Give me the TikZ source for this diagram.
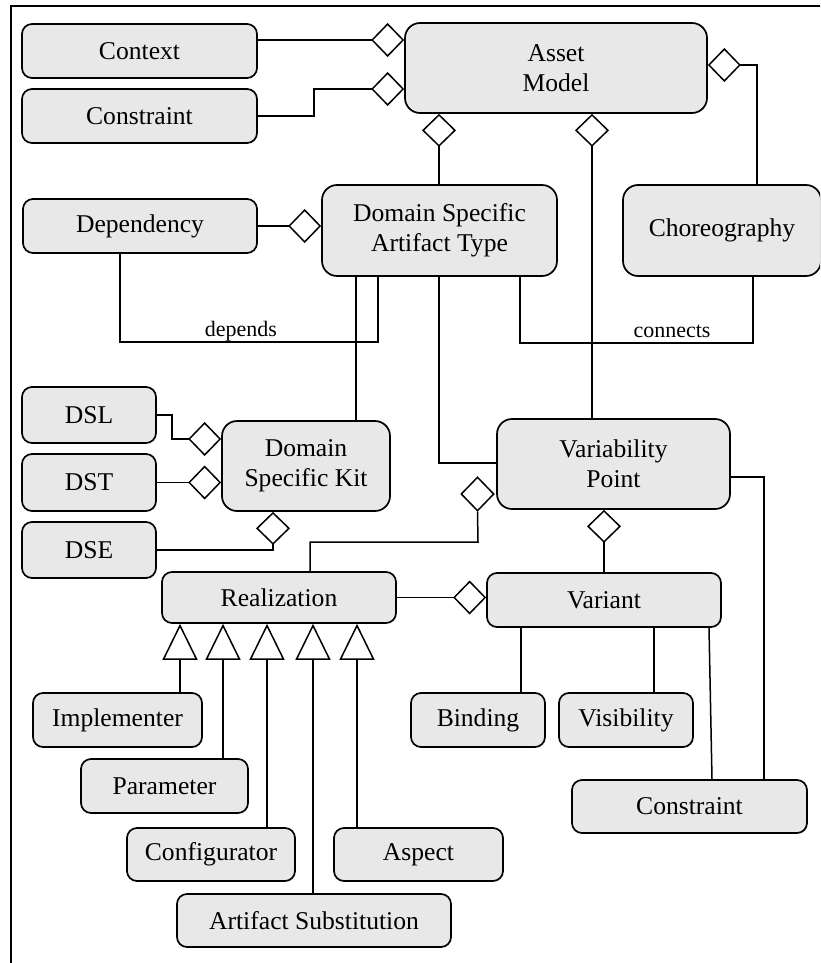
\documentclass[tikz,border=0pt]{standalone}
\usepackage{fontspec}
\setmainfont{Liberation Serif}
\usetikzlibrary{arrows.meta,shapes.geometric}
\definecolor{boxgray}{HTML}{E8E8E8}

\begin{document}
\begin{tikzpicture}[x=1pt,y=-1pt,
  box/.style={draw, line width=1.7pt, fill=boxgray, rounded corners=10pt,
    inner sep=0pt, align=center, font=\fontsize{25.6}{30}\selectfont},
  bigbox/.style={box, rounded corners=15pt},
  sz/.style 2 args={minimum width=#1pt, minimum height=#2pt},
  link/.style={line width=1.5pt},
  agg/.style={link, -{Diamond[open,length=33pt,width=34pt]}},
  gen/.style={link, -{Triangle[open,length=36pt,width=35pt]}},
  lbl/.style={inner sep=0pt, anchor=base, font=\fontsize{22}{26}\selectfont},
  aggdiamond/.style={draw, line width=1.5pt, diamond, inner sep=0pt,
    minimum width=33pt, minimum height=34pt, fill=white}
]
\clip (0,0) rectangle (820,963);

% outer frame
\draw[line width=1.7pt] (11,990) -- (11,6) -- (840,6);

% classes
\node[bigbox, sz={302}{90}] (am)    at (556,68)      {Asset\\Model};
\node[box, sz={235}{54}]    (ctx)   at (139.5,51)    {Context};
\node[box, sz={235}{54}]    (consA) at (139.5,116)   {Constraint};
\node[bigbox, sz={235}{91}] (dsat)  at (439.5,230.5) {Domain Specific\\Artifact Type};
\node[bigbox, sz={198}{91}] (chor)  at (722,230.5)   {Choreography};
\node[box, sz={234}{54}]    (dep)   at (140,226)     {Dependency};
\node[box, sz={134}{56}]    (dsl)   at (89,415)      {DSL};
\node[box, sz={134}{57}]    (dst)   at (89,482.5)    {DST};
\node[box, sz={134}{56}]    (dse)   at (89,550)      {DSE};
\node[bigbox, sz={168}{90}] (dsk)   at (306,466)     {Domain\\Specific Kit};
\node[bigbox, sz={233}{90}] (vp)    at (613.5,464)   {Variability\\Point};
\node[box, sz={234}{51}]    (real)  at (279,597.5)   {Realization};
\node[box, sz={234}{54}]    (var)   at (604,600)     {Variant};
\node[box, sz={169}{54}]    (impl)  at (117.5,720)   {Implementer};
\node[box, sz={167}{54}]    (param) at (164.5,786)   {Parameter};
\node[box, sz={168}{53}]    (conf)  at (211,854.5)   {Configurator};
\node[box, sz={169}{53}]    (asp)   at (418.5,854.5) {Aspect};
\node[box, sz={274}{53}]    (subst) at (314,920.5)   {Artifact Substitution};
\node[box, sz={134}{54}]    (bind)  at (478,720)     {Binding};
\node[box, sz={134}{54}]    (vis)   at (626,720)     {Visibility};
\node[box, sz={235}{53}]    (consB) at (689.5,806.5) {Constraint};

% aggregations into the asset model
\draw[agg] (ctx.east |- 0,40) -- (am.west |- 0,40);
\draw[agg] (consA.east) -- (314,116) |- (am.west |- 0,89);
\draw[agg] (chor.north -| 757,0) |- (am.east |- 0,65);
\draw[agg] (dsat.north -| 439,0) -- (am.south -| 439,0);
\draw[agg] (vp.north -| 592,0) -- (am.south -| 592,0);

% artifact type relations
\draw[agg] (dep.east) -- (dsat.west |- dep.east);
\draw[link] (dep.south -| 120,0) -- (120,342) -| (dsat.south -| 378,0);
\node[lbl] (dependsLbl) at (241,336) {depends};
\draw[link] (dsat.south -| 520,0) -- (520,343) -| (chor.south -| 753,0);
\node[lbl] (connectsLbl) at (672,337) {connects};
\draw[link] (dsat.south -| 356,0) -- (dsk.north -| 356,0);
\draw[link] (dsat.south -| 439,0) |- (vp.west |- 0,463);

% domain specific kit parts
\draw[agg] (dsl.east) -| (172,439) -- (dsk.west |- 0,439);
\draw[agg] (dst.east) -- (dsk.west |- dst.east);
\draw[agg] (dse.east) -| (dsk.south -| 273,0);

% variability point
\node[aggdiamond] (vpd) at (477.5,494) {};
\draw[link] (real.north -| 310,0) |- (478,542) -- (vpd.south);
\draw[agg] (var.north) -- (vp.south -| var.north);
\draw[agg] (real.east) -- (var.west |- real.east);
\draw[link] (vp.east |- 0,477) -| (consB.north -| 764,0);

% variant parts
\draw[link] (var.south -| 521,0) -- (bind.north -| 521,0);
\draw[link] (var.south -| 654,0) -- (vis.north -| 654,0);
\draw[link] (var.south -| 709,0) -- (consB.north -| 712,0);

% realization kinds
\draw[gen] (impl.north -| 180,0)  -- (real.south -| 180,0);
\draw[gen] (param.north -| 223,0) -- (real.south -| 223,0);
\draw[gen] (conf.north -| 267,0)  -- (real.south -| 267,0);
\draw[gen] (subst.north -| 313,0) -- (real.south -| 313,0);
\draw[gen] (asp.north -| 357,0)   -- (real.south -| 357,0);
\end{tikzpicture}
\end{document}
